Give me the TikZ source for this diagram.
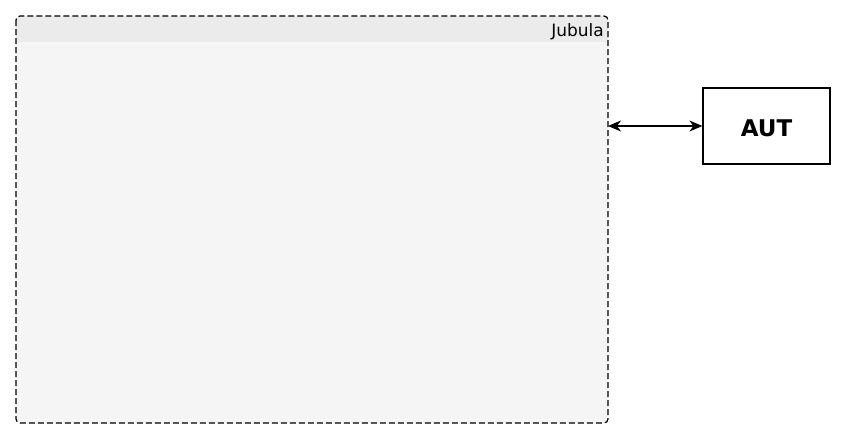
\documentclass[tikz,border=0pt]{standalone}
\usepackage{fontspec}
\setmainfont{DejaVu Sans}
\usetikzlibrary{arrows.meta}
\definecolor{hdr}{HTML}{EBEBEB}
\definecolor{bodyc}{HTML}{F5F5F5}
\tikzset{
  groupbox/.style={draw=black, line width=1.2pt, dash pattern=on 6pt off 3pt, rounded corners=4pt},
  autbox/.style={draw=black, line width=1.2pt, fill=white, minimum width=127pt, minimum height=76pt, inner sep=0pt},
  autfont/.style={font=\fontsize{23}{27}\selectfont\bfseries, inner sep=0pt},
  link/.style={line width=1.2pt, {Stealth[length=13pt,width=11pt,inset=4pt]}-{Stealth[length=13pt,width=11pt,inset=4pt]}}
}
\begin{document}
\begin{tikzpicture}[x=1pt,y=1pt]
\useasboundingbox (0,0) rectangle (844,-439);
% group container
\fill[bodyc, rounded corners=4pt] (16,-16) rectangle (608,-423);
\fill[hdr, rounded corners=4pt] (16,-16) -- (608,-16) -- (608,-41.5) -- (16,-41.5) -- cycle;
\fill[hdr] (16,-30) rectangle (608,-41.5);
\node[anchor=base east, inner sep=0pt, font=\fontsize{17}{20}\selectfont] (title) at (604,-36.5) {Jubula};
\draw[groupbox] (16,-16) rectangle (608,-423);
\coordinate (port) at (608,-126);
\node[autbox] (aut) at (766.5,-126) {};
\node[autfont] (autlabel) at (766.5,-128) {AUT};
\draw[link] (port) -- (aut.west);
\end{tikzpicture}
\end{document}
